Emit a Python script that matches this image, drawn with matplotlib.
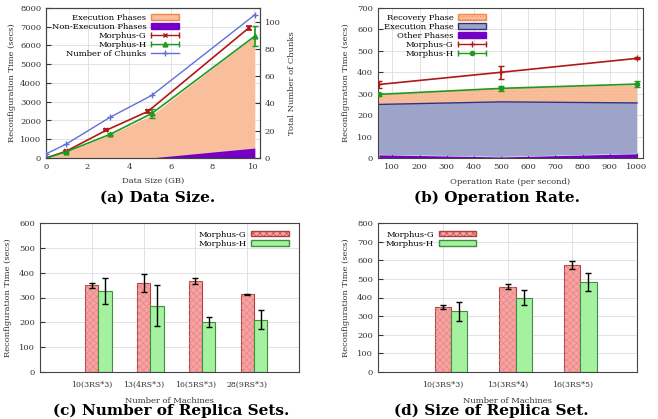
import matplotlib
matplotlib.use("Agg")
import matplotlib.pyplot as plt
import numpy as np
from matplotlib.patches import Patch
from matplotlib.lines import Line2D
from matplotlib.legend_handler import HandlerBase

plt.rcParams['font.family'] = ['DejaVu Serif']
plt.rcParams['font.size'] = 6
plt.rcParams['hatch.linewidth'] = 0.4
plt.rcParams['xtick.direction'] = 'in'
plt.rcParams['ytick.direction'] = 'in'
plt.rcParams['axes.edgecolor'] = '#444444'
plt.rcParams['xtick.color'] = '#333333'
plt.rcParams['ytick.color'] = '#333333'
plt.rcParams['xtick.labelcolor'] = '#333333'
plt.rcParams['ytick.labelcolor'] = '#333333'
plt.rcParams['axes.labelcolor'] = '#333333'

# ---------- data (a) ----------
a_x_g = [0.0, 0.95, 2.9, 4.9, 9.75]
a_g = [0, 350, 1480, 2480, 6930]
a_g_err = [0, 40, 60, 80, 120]
a_x_h = [0.0, 0.95, 3.1, 5.1, 10.05]
a_h = [0, 320, 1270, 2380, 6500]
a_h_err = [0, 40, 60, 250, 550]
a_chunks = [3, 10, 30, 46, 105]
a_exec = [0, 300, 1250, 2300, 6500]
a_nonexec = [0, 0, 0, 10, 530]

# ---------- data (b) ----------
b_x = [50, 500, 1000]
b_g = [343, 400, 465]
b_g_err = [15, 30, 5]
b_h = [297, 325, 345]
b_h_err = [6, 12, 15]
b_other = [15, 5, 20]
b_exec = [250, 262, 257]
b_recovery = [295, 325, 340]

# ---------- data (c) ----------
c_labels = ['10(3RS*3)', '13(4RS*3)', '16(5RS*3)', '28(9RS*3)']
c_g = [350, 358, 368, 313]
c_g_err = [10, 35, 12, 3]
c_h = [325, 267, 201, 211]
c_h_err = [53, 82, 20, 38]

# ---------- data (d) ----------
d_labels = ['10(3RS*3)', '13(3RS*4)', '16(3RS*5)']
d_g = [350, 458, 575]
d_g_err = [10, 13, 20]
d_h = [325, 398, 482]
d_h_err = [53, 40, 48]

W, H = 658, 419
fig = plt.figure(figsize=(W / 100, H / 100), dpi=100)


def ax_px(l, r, t, b):
    return fig.add_axes([l / W, 1 - b / H, (r - l) / W, (b - t) / H])


class ErrKey:
    def __init__(self, color, marker, ms, caps=True):
        self.color, self.marker, self.ms, self.caps = color, marker, ms, caps


class HandlerErrKey(HandlerBase):
    def create_artists(self, legend, orig, xd, yd, width, height, fontsize, trans):
        y = yd + height / 2
        x0, x1 = xd, xd + width
        arts = [Line2D([x0, x1], [y, y], color=orig.color, lw=1.0, transform=trans)]
        if orig.caps:
            arts.append(Line2D([x0, x1], [y, y], color=orig.color, lw=0, marker='|',
                               ms=4, mew=1.0, transform=trans))
        arts.append(Line2D([(x0 + x1) / 2], [y], color=orig.color, lw=0, marker=orig.marker,
                           ms=orig.ms, mew=1.0, transform=trans))
        return arts


GRID = dict(color='#dddddd', lw=0.6)
RED = '#b01818'
GREEN = '#1f9a1f'
PURPLE = '#7300c4'
PEACH = '#f9bf9c'
ORANGE = '#f0884a'
BLUEG = '#9ea4c9'
NAVY = '#2e3580'
CHUNK = '#6070d8'

LEGKW = dict(frameon=False, markerfirst=False, fontsize=6, handlelength=3.4,
             labelspacing=0.12, handletextpad=0.5, borderaxespad=0.3)

# ---------------- (a) ----------------
ax = ax_px(46, 260, 8, 158)
ax.set_axisbelow(True)
ax.grid(True, **GRID)
ax.fill_between(a_x_h, a_exec, color=PEACH, lw=0, zorder=1)
ax.fill_between(a_x_h, a_nonexec, color=PURPLE, lw=0, zorder=2)
ax.errorbar(a_x_g, a_g, yerr=a_g_err, color=RED, marker='x', ms=3.5, mew=1.2,
            lw=1.2, capsize=2, zorder=4)
ax.errorbar(a_x_h, a_h, yerr=a_h_err, color=GREEN, marker='^', ms=3.5,
            lw=1.2, capsize=2, zorder=4)
ax.set_xlim(0, 10.3)
ax.set_ylim(0, 8000)
ax.set_xticks([0, 2, 4, 6, 8, 10])
ax.set_yticks(range(0, 8001, 1000))
ax.set_xlabel('Data Size (GB)', labelpad=4)
ax.set_ylabel('Reconfiguration Time (secs)', labelpad=3)
ax2 = ax.twinx()
ax2.plot(a_x_h, a_chunks, color=CHUNK, marker='+', ms=4, lw=1.0, zorder=5)
ax2.set_ylim(0, 110)
ax2.set_yticks(range(0, 101, 20))
ax2.set_ylabel('Total Number of Chunks', labelpad=5)
hla = [Patch(facecolor=PEACH, edgecolor=ORANGE, lw=1.0),
       Patch(facecolor=PURPLE, edgecolor=PURPLE),
       ErrKey(RED, 'x', 3.5), ErrKey(GREEN, '^', 3.5), ErrKey(CHUNK, '+', 4, caps=False)]
lla = ['Execution Phases', 'Non-Execution Phases', 'Morphus-G', 'Morphus-H', 'Number of Chunks']
ax2.legend(hla, lla, loc='upper left', bbox_to_anchor=(0.0, 1.0),
           handler_map={ErrKey: HandlerErrKey()}, **LEGKW)

# ---------------- (b) ----------------
bx = ax_px(378, 643, 8, 158)
bx.set_axisbelow(True)
bx.grid(True, **GRID)
bx.fill_between(b_x, b_exec, b_recovery, facecolor=PEACH, edgecolor='#f4a880', lw=0,
                hatch='......', zorder=1)
bx.fill_between(b_x, b_other, b_exec, facecolor=BLUEG, lw=0, zorder=1)
bx.plot(b_x, b_exec, color=NAVY, lw=1.0, zorder=2)
bx.fill_between(b_x, 0, b_other, color=PURPLE, lw=0, zorder=2)
bx.errorbar(b_x, b_g, yerr=b_g_err, color=RED, marker='+', ms=4, lw=1.2, capsize=2, zorder=4)
bx.errorbar(b_x, b_h, yerr=b_h_err, color=GREEN, marker='o', ms=3, lw=1.2, capsize=2, zorder=4)
bx.set_xlim(47, 1022)
bx.set_ylim(0, 700)
bx.set_xticks(range(100, 1001, 100))
bx.set_yticks(range(0, 701, 100))
bx.set_xlabel('Operation Rate (per second)', labelpad=5)
bx.set_ylabel('Reconfiguration Time (secs)', labelpad=5)
hlb = [Patch(facecolor=PEACH, edgecolor=ORANGE, hatch='......', lw=1.0),
       Patch(facecolor=BLUEG, edgecolor=NAVY, lw=1.0),
       Patch(facecolor=PURPLE, edgecolor=PURPLE),
       ErrKey(RED, '+', 4), ErrKey(GREEN, 'o', 3)]
llb = ['Recovery Phase', 'Execution Phase', 'Other Phases', 'Morphus-G', 'Morphus-H']
bx.legend(hlb, llb, loc='upper left', bbox_to_anchor=(0.0, 1.0),
          handler_map={ErrKey: HandlerErrKey()}, **LEGKW)

# ---------------- bars ----------------
GFILL = '#f7a3a3'
GEDGE = '#b04040'
HFILL = '#a4f2a0'
HEDGE = '#3f8f3f'


def bars(axb, labels, g, ge, h, he, width, legloc, anchor):
    pos = np.arange(len(labels))
    axb.set_axisbelow(True)
    axb.grid(True, **GRID)
    axb.bar(pos, g, width, color=GFILL, edgecolor=GEDGE, lw=0.8, zorder=2)
    axb.bar(pos, g, width, facecolor='none', edgecolor='#e58080', hatch='xxxxx', lw=0, zorder=2)
    axb.bar(pos + width, h, width, color=HFILL, edgecolor=HEDGE, lw=0.8, zorder=2)
    axb.errorbar(pos, g, yerr=ge, fmt='none', ecolor='black', elinewidth=1.0, capsize=2.5,
                 capthick=1.0, zorder=3)
    axb.errorbar(pos + width, h, yerr=he, fmt='none', ecolor='black', elinewidth=1.0,
                 capsize=2.5, capthick=1.0, zorder=3)
    axb.set_xticks(pos)
    axb.set_xticklabels(labels, fontsize=5.6)
    axb.set_xlim(-1, len(labels))
    axb.tick_params(axis='x', length=0, pad=6)
    axb.set_xlabel('Number of Machines', labelpad=6)
    axb.set_ylabel('Reconfiguration Time (secs)', labelpad=5)
    hg = Patch(facecolor=GFILL, edgecolor=GEDGE, hatch='xxxxx')
    hh = Patch(facecolor=HFILL, edgecolor=HEDGE)
    axb.legend([hg, hh], ['Morphus-G', 'Morphus-H'], loc=legloc, bbox_to_anchor=anchor,
               frameon=False, markerfirst=False, fontsize=6, handlelength=4.5,
               handleheight=0.7, labelspacing=0.2, handletextpad=0.6)


cx = ax_px(40, 299, 223, 372)
bars(cx, c_labels, c_g, c_g_err, c_h, c_h_err, 0.258, 'upper right', (0.99, 1.0))
cx.set_ylim(0, 600)
cx.set_yticks(range(0, 601, 100))

dx = ax_px(378, 637, 223, 372)
bars(dx, d_labels, d_g, d_g_err, d_h, d_h_err, 0.25, 'upper left', (0.0, 1.0))
dx.set_ylim(0, 800)
dx.set_yticks(range(0, 801, 100))

# ---------------- captions ----------------
cap = dict(ha='center', va='center', fontsize=11, fontweight='bold', family='DejaVu Serif')
fig.text(158 / W, 1 - 198 / H, '(a) Data Size.', **cap)
fig.text(497 / W, 1 - 198 / H, '(b) Operation Rate.', **cap)
fig.text(171 / W, 1 - 411 / H, '(c) Number of Replica Sets.', **cap)
fig.text(491 / W, 1 - 411 / H, '(d) Size of Replica Set.', **cap)

fig.savefig('out.png', dpi=100)
